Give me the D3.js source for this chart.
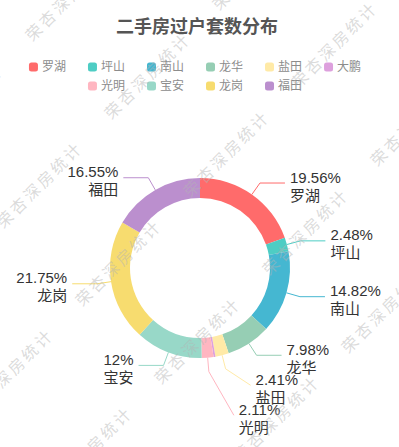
<!DOCTYPE html>
<html>
<head>
<meta charset="utf-8">
<script src="https://cdn.jsdelivr.net/npm/d3@7/dist/d3.min.js"></script>
<style>
  html, body { margin: 0; padding: 0; background: #fff; }
  svg { display: block; font-family: "Liberation Sans", "Noto Sans CJK SC", sans-serif; }
</style>
</head>
<body>
<div id="chart"></div>
<script>
// 数据
const districts = ['罗湖', '坪山', '南山', '龙华', '盐田', '大鹏', '光明', '宝安', '龙岗', '福田'];
const shares = [19.56, 2.48, 14.82, 7.98, 2.41, 0.34, 2.11, 12, 21.75, 16.55];
const colors = ['#ff6b6b', '#4ecdc4', '#45b7d1', '#96ceb4', '#ffeaa7', '#dda0dd', '#ffb6c1', '#98d8c8', '#f7dc6f', '#bb8fce'];
const titleText = '二手房过户套数分布';
const watermarkText = '荣杏深房统计';

const width = 399, height = 447;
const cx = 200, cy = 268;
const innerR = 70, outerR = 90;
const len1 = 14, len2 = 25;

const rows = districts.map((name, i) => ({ name, value: shares[i] }));
const color = d3.scaleOrdinal().domain(districts).range(colors);

const svg = d3.select('#chart').append('svg')
  .attr('width', width).attr('height', height)
  .attr('viewBox', [0, 0, width, height]);

// --- 标题 ---
svg.append('text')
  .attr('x', 197).attr('y', 27)
  .attr('text-anchor', 'middle').attr('dominant-baseline', 'central')
  .attr('fill', '#555').style('font-size', '18px').style('font-weight', 'bold')
  .text(titleText);

// --- 图例 ---
const perRow = 6, rowY = [67, 86], gap = 22, mark = 9;
const legend = svg.append('g');
d3.groups(rows.map((d, i) => ({ ...d, row: Math.floor(i / perRow) })), d => d.row)
  .forEach(([r, items]) => {
    const g = legend.append('g');
    let x = 0;
    items.forEach(d => {
      const it = g.append('g').attr('transform', `translate(${x},0)`);
      it.append('rect').attr('x', 0).attr('y', -mark / 2).attr('width', mark).attr('height', mark)
        .attr('rx', 2.5).attr('fill', color(d.name));
      const t = it.append('text').attr('x', mark + 4).attr('dominant-baseline', 'central')
        .attr('fill', '#8c8c8c').style('font-size', '12px').text(d.name);
      x += mark + 4 + t.node().getComputedTextLength() + gap;
    });
    const w = x - gap;
    g.attr('transform', `translate(${195 - w / 2},${rowY[r]})`);
  });

// --- 环形图 ---
const pie = d3.pie().sort(null).value(d => d.value);
const arc = d3.arc().innerRadius(innerR).outerRadius(outerR);
const arcs = pie(rows);

svg.append('g').attr('transform', `translate(${cx},${cy})`)
  .selectAll('path').data(arcs).join('path')
  .attr('d', arc).attr('fill', d => color(d.data.name));

// 标签位置（含简单的防重叠）
const pt = (a, r) => [cx + r * Math.sin(a), cy - r * Math.cos(a)];
const labels = arcs.filter(d => d.data.value >= 1).map(d => {
  const mid = (d.startAngle + d.endAngle) / 2;
  const p0 = pt(mid, outerR), p1 = pt(mid, outerR + len1);
  return { d, p0, p1, y: p1[1], right: Math.sin(mid) >= 0 };
});
[true, false].forEach(side => {
  const list = labels.filter(l => l.right === side).sort((a, b) => a.y - b.y);
  for (let i = 1; i < list.length; i++) {
    if (list[i].y < list[i - 1].y + 30) list[i].y = list[i - 1].y + 30;
  }
});

const lab = svg.append('g');
labels.forEach(l => {
  const dir = l.right ? 1 : -1;
  const endX = l.p1[0] + dir * len2;
  const c = color(l.d.data.name);
  lab.append('path')
    .attr('d', d3.line()([l.p0, l.p1, [endX, l.y]]))
    .attr('fill', 'none').attr('stroke', c).attr('stroke-width', 1);
  const tx = endX + dir * 5;
  const t = lab.append('text')
    .attr('text-anchor', l.right ? 'start' : 'end')
    .attr('fill', '#333').style('font-size', '15px');
  t.append('tspan').attr('x', tx).attr('y', l.y - 6).attr('dominant-baseline', 'central')
    .text(l.d.data.value + '%');
  t.append('tspan').attr('x', tx).attr('y', l.y + 12).attr('dominant-baseline', 'central')
    .text(l.d.data.name);
});

// --- 水印 ---
const wm = svg.append('g').style('pointer-events', 'none');
const ox = 40, oy = 185, ax = 187, ay = -31, bx = 79, by = 78;
for (let i = -4; i <= 4; i++) {
  for (let j = -5; j <= 7; j++) {
    const x = ox + i * ax + j * bx, y = oy + i * ay + j * by;
    if (x < -90 || x > width + 90 || y < -90 || y > height + 90) continue;
    wm.append('text')
      .attr('transform', `translate(${x},${y}) rotate(-45)`)
      .attr('text-anchor', 'middle').attr('dominant-baseline', 'central')
      .attr('fill', '#b4b4b4').attr('fill-opacity', 0.48)
      .style('font-size', '16px').style('letter-spacing', '3px')
      .text(watermarkText);
  }
}
</script>
</body>
</html>
